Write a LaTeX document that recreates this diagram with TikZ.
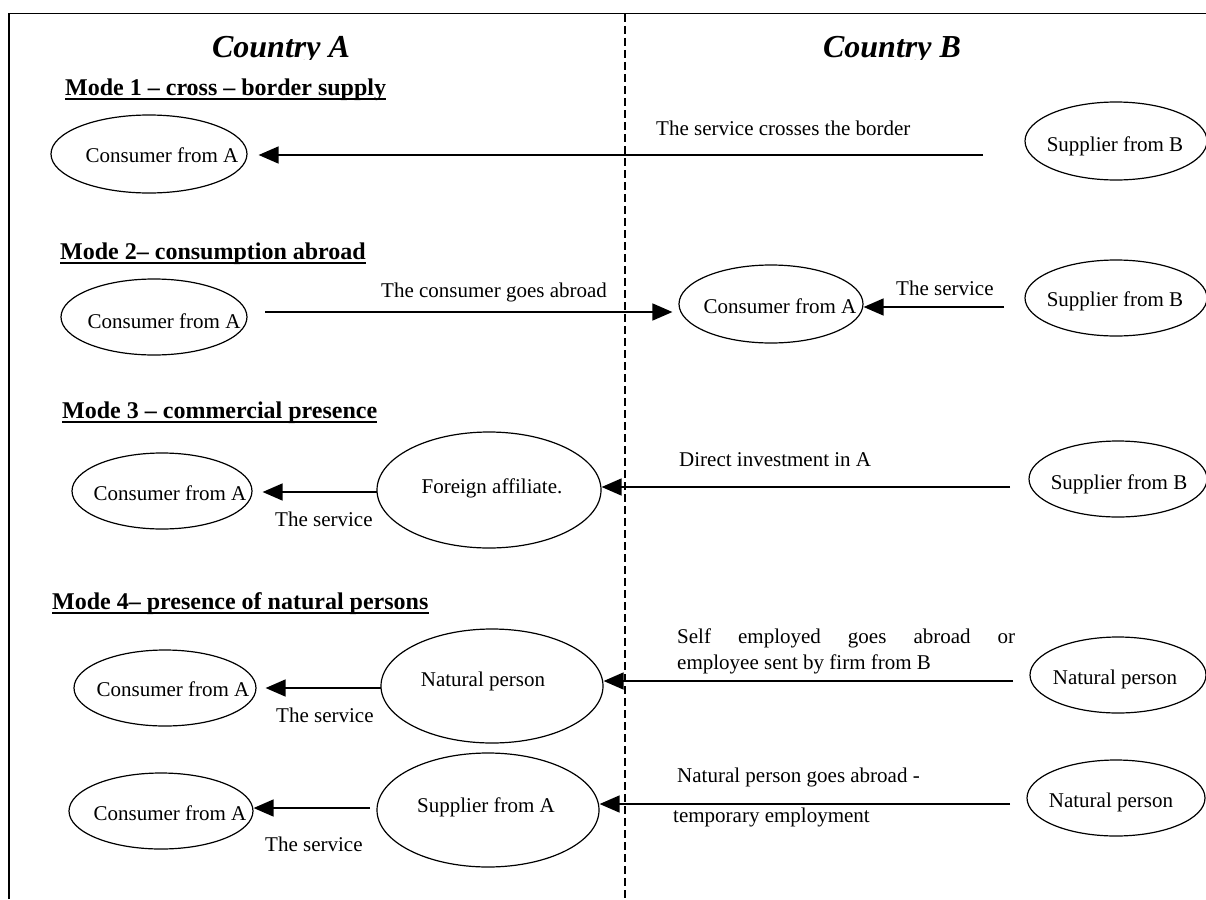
\documentclass[tikz,border=0pt]{standalone}
\usepackage{fontspec}
\setmainfont{Liberation Serif}
\usetikzlibrary{shapes.geometric,arrows.meta,calc}
\newcommand\intext[3]{\makebox[0pt]{\hspace{#1pt}\raisebox{#2pt}{#3}}}
\tikzset{
 ell/.style={draw, ellipse, line width=1.2pt, inner sep=0pt, text height=0pt, text depth=0pt, font=\fontsize{21}{24}\selectfont},
 lbl/.style={anchor=base west, inner sep=0pt, font=\fontsize{21}{24}\selectfont},
 hdr/.style={anchor=base west, inner sep=0pt, font=\fontsize{24}{28}\selectfont\bfseries},
 ttl/.style={anchor=base, inner sep=0pt, font=\fontsize{32}{36}\selectfont\bfseries\itshape},
 conn/.style={line width=1.6pt, -{Triangle[length=20pt,width=17pt]}},
 frameline/.style={line width=1.8pt},
 divider/.style={line width=1.3pt, dash pattern=on 8pt off 4pt},
 uline/.style={line width=1.8pt}
}
\begin{document}
\begin{tikzpicture}[x=1pt,y=-1pt]
\useasboundingbox (0,0) rectangle (1206,899);
\fill[white] (0,0) rectangle (1206,899);

% frame and border line
\coordinate (fbl) at (9,899);
\coordinate (ftl) at (9,13.5);
\coordinate (ftr) at (1206,13.5);
\draw[frameline] (fbl) -- (ftl) -- (ftr);
\coordinate (dtop) at (625,14);
\coordinate (dbot) at (625,899);
\draw[divider] (dtop) -- (dbot);

% titles (descenders clipped as in the original)
\begin{scope}
\clip (0,0) rectangle (1206,59.5);
\node[ttl] (tA) at (281,58) {Country A};
\node[ttl] (tB) at (892,58) {Country B};
\end{scope}

% headers
\node[hdr] (h1) at (65,95) {Mode 1 – cross – border supply};
\node[hdr] (h2) at (60,259) {Mode 2– consumption abroad};
\node[hdr] (h3) at (62,418) {Mode 3 – commercial presence};
\node[hdr] (h4) at (52,609) {Mode 4– presence of natural persons};
\foreach \h in {h1,h2,h3,h4}{
  \draw[uline] ([yshift=-4pt]\h.base west) -- ([yshift=-4pt]\h.base east);
}

% Mode 1
\node[ell, minimum width=196pt, minimum height=78pt] (cA1) at (149,154) {\intext{26}{-8}{Consumer from A}};
\node[ell, minimum width=182pt, minimum height=78pt] (sB1) at (1116,141) {\intext{-2}{-10}{Supplier from B}};
\node[lbl] (l1) at (656,135) {The service crosses the border};
\coordinate (a1s) at (983,155);
\draw[conn, shorten >=11pt] (a1s) -- (a1s -| cA1.east);

% Mode 2
\node[ell, minimum width=186pt, minimum height=76pt] (cA2) at (154,317) {\intext{20}{-11}{Consumer from A}};
\node[ell, minimum width=184pt, minimum height=78pt] (cAB2) at (771,304) {\intext{18}{-9}{Consumer from A}};
\node[ell, minimum width=182pt, minimum height=76pt] (sB2) at (1116,298) {\intext{-2}{-8}{Supplier from B}};
\node[lbl] (l2) at (381,297) {The consumer goes abroad};
\node[lbl] (l2b) at (896,295) {The service};
\coordinate (a2s) at (265,312);
\draw[conn, shorten >=6pt] (a2s) -- (a2s -| cAB2.west);
\coordinate (a2bs) at (1004,307);
\draw[conn] (a2bs) -- (a2bs -| cAB2.east);

% Mode 3
\node[ell, minimum width=180pt, minimum height=76pt] (cA3) at (162,491) {\intext{16}{-9}{Consumer from A}};
\node[ell, minimum width=224pt, minimum height=116pt] (FA) at (489,490) {\intext{6}{-3}{Foreign affiliate.}};
\node[ell, minimum width=178pt, minimum height=76pt] (sB3) at (1118,479) {\intext{2}{-10}{Supplier from B}};
\node[lbl] (l3) at (275,526) {The service};
\node[lbl] (l3b) at (679,466) {Direct investment in A};
\coordinate (a3as) at (377,492);
\draw[conn, shorten >=10pt] (a3as) -- (a3as -| cA3.east);
\coordinate (a3bs) at (1010,487);
\draw[conn] (a3bs) -- (a3bs -| FA.east);

% Mode 4 (first row)
\node[ell, minimum width=182pt, minimum height=76pt] (cA4a) at (165,688) {\intext{16}{-8}{Consumer from A}};
\node[ell, minimum width=222pt, minimum height=114pt] (NPA) at (492,686) {\intext{-18}{0}{Natural person}};
\node[ell, minimum width=176pt, minimum height=76pt] (NPB1) at (1118,675) {\intext{-6}{-9}{Natural person}};
\node[lbl] (l4a) at (276,722) {The service};
\node[lbl] (l4b) at (677,643) {\makebox[338pt][s]{Self employed goes abroad or}};
\node[lbl] (l4c) at (677,669) {employee sent by firm from B};
\coordinate (a4as) at (381,688);
\draw[conn, shorten >=9pt] (a4as) -- (a4as -| cA4a.east);
\coordinate (a4bs) at (1013,681);
\draw[conn] (a4bs) -- (a4bs -| NPA.east);

% Mode 4 (second row)
\node[ell, minimum width=184pt, minimum height=76pt] (cA4b) at (161,811) {\intext{18}{-9}{Consumer from A}};
\node[ell, minimum width=222pt, minimum height=114pt] (SA) at (488,810) {\intext{-4}{-2}{Supplier from A}};
\node[ell, minimum width=178pt, minimum height=76pt] (NPB2) at (1116,798) {\intext{-10}{-9}{Natural person}};
\node[lbl] (l4d) at (265,851) {The service};
\node[lbl] (l4e) at (677,782) {Natural person goes abroad -};
\node[lbl] (l4f) at (673,822) {temporary employment};
\coordinate (a4cs) at (370,808);
\draw[conn] (a4cs) -- (a4cs -| cA4b.east);
\coordinate (a4ds) at (1010,804);
\draw[conn] (a4ds) -- (a4ds -| SA.east);
\end{tikzpicture}
\end{document}
